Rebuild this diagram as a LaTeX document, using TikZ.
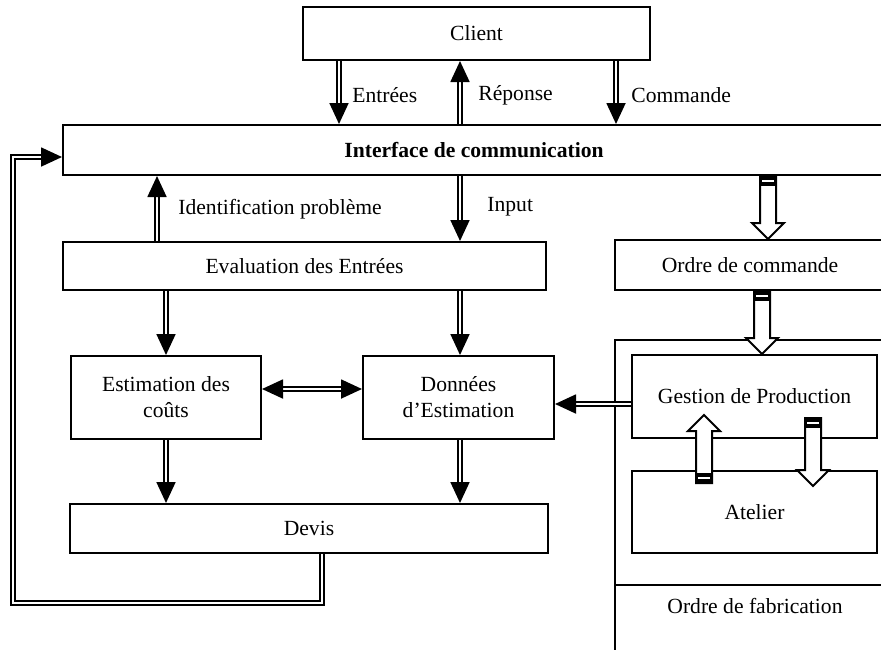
\documentclass[tikz,border=0pt]{standalone}
\usepackage{fontspec}
\setmainfont{Liberation Serif}
\usetikzlibrary{arrows.meta,calc}

% hollow block arrow with a dark band at its tail
\newcommand{\hollowarrow}[2]{%
  \coordinate (ha-h) at ($(#2)!8pt!(#1)$);
  \coordinate (ha-b) at ($(#1)!5pt!(#2)$);
  \coordinate (ha-m) at ($(#1)!2.5pt!(#2)$);
  \filldraw[fill=white, line width=1pt, line join=miter]
    ($(#1)!4pt!90:(#2)$) -- ($(ha-h)!4pt!-90:(#1)$) -- ($(ha-h)!8pt!-90:(#1)$)
    -- (#2) -- ($(ha-h)!8pt!90:(#1)$) -- ($(ha-h)!4pt!90:(#1)$)
    -- ($(#1)!4pt!-90:(#2)$) -- cycle;
  \fill ($(#1)!4.5pt!90:(#2)$) -- ($(#1)!4.5pt!-90:(#2)$)
    -- ($(ha-b)!4.5pt!90:(#1)$) -- ($(ha-b)!4.5pt!-90:(#1)$) -- cycle;
  \draw[white, line width=0.8pt] ($(ha-m)!3pt!90:(#2)$) -- ($(ha-m)!3pt!-90:(#2)$);
}

\begin{document}
\begin{tikzpicture}[
    x=0.5pt, y=-0.5pt,
    every node/.style={font=\fontsize{10.8}{13}\selectfont},
    box/.style={draw, line width=1pt, inner sep=0pt, align=center},
    flow/.style={double, line width=0.9pt, double distance=1.1pt,
                 -{Triangle[length=10.5pt,width=9.5pt]}},
    lbl/.style={anchor=west, inner sep=0pt}
]
\useasboundingbox (0,0) rectangle (881,649);

% boxes
\node[box, minimum width=173.5pt, minimum height=26.5pt] (client) at (476.5,33.5) {Client};
\node[box, minimum width=411pt, minimum height=25pt] (iface) at (474,150) {\bfseries Interface de communication};
\node[box, minimum width=241.5pt, minimum height=24pt] (eval) at (304.5,266) {Evaluation des Entrées};
\node[box, minimum width=135pt, minimum height=25pt] (ordre) at (750,265) {Ordre de commande};
\node[box, minimum width=95pt, minimum height=41.5pt] (estim) at (166,397.5) {Estimation des\\coûts};
\node[box, minimum width=95.5pt, minimum height=41.5pt] (donnees) at (458.5,397.5) {Données\\d’Estimation};
\node[box, minimum width=239pt, minimum height=24.5pt] (devis) at (309,528.5) {Devis};
\node[box, minimum width=122.5pt, minimum height=41.5pt] (gestion) at (754.5,396.5) {Gestion de Production};
\node[box, minimum width=122.5pt, minimum height=41pt] (atelier) at (754.5,512) {Atelier};

% production frame
\draw[line width=1pt] (615,660) -- (615,340) -- (890,340);
\draw[line width=1pt] (615,585) -- (890,585);
\node (fab) at (755,606) {Ordre de fabrication};

% client <-> interface
\draw[flow] (client.south -| 339,0) -- (iface.north -| 339,0);
\draw[flow] (iface.north -| 460,0) -- (client.south -| 460,0);
\draw[flow] (client.south -| 616,0) -- (iface.north -| 616,0);
\node[lbl] (l-entrees) at (352,95) {Entrées};
\node[lbl] (l-reponse) at (478,95) {Réponse};
\node[lbl] (l-commande) at (631,95) {Commande};

% interface <-> evaluation
\draw[flow] (eval.north -| 157,0) -- (iface.south -| 157,0);
\draw[flow] (iface.south -| 460,0) -- (eval.north -| 460,0);
\node[lbl] (l-ident) at (178,209) {Identification problème};
\node[lbl] (l-input) at (487,207) {Input};

% estimation
\draw[flow] (eval.south -| estim.north) -- (estim.north);
\draw[flow] (eval.south -| 460,0) -- (donnees.north -| 460,0);
\draw[flow, {Triangle[length=10.5pt,width=9.5pt]}-{Triangle[length=10.5pt,width=9.5pt]}]
    (estim.east |- 0,389) -- (donnees.west |- 0,389);
\draw[flow] (gestion.west |- 0,404) -- (donnees.east |- 0,404);
\draw[flow] (estim.south) -- (devis.north -| estim.south);
\draw[flow] (donnees.south -| 460,0) -- (devis.north -| 460,0);

% feedback devis -> interface
\draw[flow] (devis.south -| 322,0) -- (322,603) -- (13,603) -- (13,157) -- (iface.west |- 0,157);

% production flow
\coordinate (t1) at (iface.south -| 768,0);
\coordinate (h1) at (ordre.north -| 768,0);
\coordinate (t2) at (ordre.south -| 762,0);
\coordinate (h2) at (gestion.north -| 762,0);
\coordinate (t3) at (704,483);
\coordinate (h3) at (704,415);
\coordinate (t4) at (813,418);
\coordinate (h4) at (813,486);
\hollowarrow{t1}{h1}
\hollowarrow{t2}{h2}
\hollowarrow{t3}{h3}
\hollowarrow{t4}{h4}

\end{tikzpicture}
\end{document}
